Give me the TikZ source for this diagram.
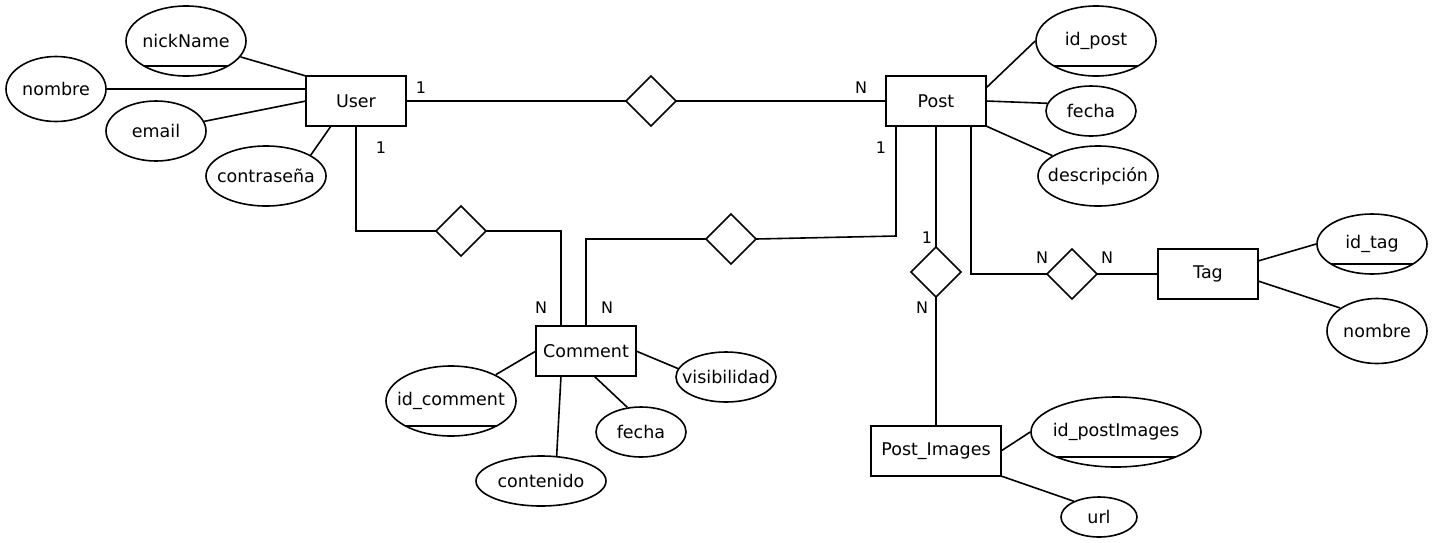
\documentclass[tikz,border=0pt]{standalone}
\usepackage{fontspec}
\setmainfont{DejaVu Sans}
\usetikzlibrary{shapes.geometric, positioning, calc}

\tikzset{
  entidad/.style={draw, minimum width=100pt, minimum height=50pt, inner sep=0pt, outer sep=0pt},
  atributo/.style={draw, ellipse, inner xsep=-15pt, inner ysep=0pt},
  clave/.style={atributo, path picture={\draw ([yshift=10pt]path picture bounding box.south west) -- ([yshift=10pt]path picture bounding box.south east);}},
  relacion/.style={draw, diamond, minimum width=50pt, minimum height=50pt, inner sep=0pt, outer sep=0pt},
  card/.style={font=\fontsize{16}{19}\selectfont, inner sep=0pt}
}

\begin{document}
\begin{tikzpicture}[x=1pt, y=-1pt, line width=1.6pt, font=\fontsize{17.5}{21}\selectfont]
\useasboundingbox[fill=white] (0,0) rectangle (1433,542);

% entidades y relaciones
\node[entidad] (User) at (356,101) {User};
\node[relacion, right=220pt of User] (r1) {};
\node[entidad, right=210pt of r1] (Post) {Post};
\node[relacion] (r2) at (461,231) {};
\node[relacion] (r3) at (731,239) {};
\node[entidad] (Comment) at (586,351) {Comment};
\node[relacion, below=121pt of Post] (r4) {};
\node[entidad, minimum width=130pt, below=129pt of r4] (PostImg) {Post\_Images};
\node[relacion] (r5) at (1072,274) {};
\node[entidad, right=61pt of r5] (Tag) {Tag};

% atributos
\node[clave, minimum width=120pt, minimum height=70pt] (nickName) at (186,41) {nickName};
\node[atributo, minimum width=100pt, minimum height=65pt] (nombre) at (56,89) {nombre};
\node[atributo, minimum width=100pt, minimum height=60pt] (email) at (156,131) {email};
\node[atributo, minimum width=120pt, minimum height=60pt] (contra) at (266,176) {contraseña};
\node[clave, minimum width=120pt, minimum height=70pt] (idpost) at (1096,41) {id\_post};
\node[atributo, minimum width=90pt, minimum height=50pt] (fechaP) at (1091,111) {fecha};
\node[atributo, minimum width=120pt, minimum height=60pt] (desc) at (1098,176) {descripción};
\node[clave, minimum width=110pt, minimum height=60pt] (idtag) at (1372,244) {id\_tag};
\node[atributo, minimum width=100pt, minimum height=65pt] (nombreT) at (1377,331) {nombre};
\node[clave, minimum width=130pt, minimum height=70pt] (idcomment) at (451,401) {id\_comment};
\node[atributo, minimum width=130pt, minimum height=50pt] (contenido) at (541,481) {contenido};
\node[atributo, minimum width=90pt, minimum height=50pt] (fechaC) at (641,432) {fecha};
\node[atributo, minimum width=100pt, minimum height=50pt] (visib) at (726,377) {visibilidad};
\node[clave, minimum width=170pt, minimum height=70pt] (idpi) at (1116,432) {id\_postImages};
\node[atributo, minimum width=76pt, minimum height=40pt] (url) at (1099,517) {url};

% cardinalidades
\node[card] (c1) at (421,88) {1};
\node[card] (c2) at (861,88) {N};
\node[card] (c3) at (381,148) {1};
\node[card] (c4) at (541,308) {N};
\node[card] (c5) at (607,308) {N};
\node[card] (c6) at (881,148) {1};
\node[card] (c7) at (927,238) {1};
\node[card] (c8) at (922,308) {N};
\node[card] (c9) at (1042,258) {N};
\node[card] (c10) at (1107,258) {N};

% conexiones
\draw (User.east) -- (r1.west);
\draw (r1.east) -- (Post.west);
\draw (User.south) |- (r2.west);
\draw (r2.east) -| ([xshift=-25pt]Comment.north);
\draw (Comment.north) |- (r3.west);
\coordinate (q3) at (896,236);
\draw (r3.east) -- (q3) -- (q3 |- Post.south);
\draw (Post.south) -- (r4.north);
\draw (r4.south) -- (PostImg.north);
\draw ([xshift=35pt]Post.south) |- (r5.west);
\draw (r5.east) -- (Tag.west);

\draw (nickName) -- (User.north west);
\draw (nombre.east) -- (nombre.east -| User.west);
\draw (email) -- (User.west);
\draw (contra.25) -- ([xshift=25pt]User.south west);
\draw ([yshift=13pt]Post.east) -- (idpost.west);
\draw (Post.east) -- (fechaP.170);
\draw (Post.south east) -- (desc);
\draw ([yshift=13pt]Tag.east) -- (idtag.west);
\draw ([yshift=-7pt]Tag.east) -- (nombreT.148);
\draw (idcomment) -- (Comment.west);
\draw ([xshift=-25pt]Comment.south) -- (contenido.58);
\draw ([xshift=8pt]Comment.south) -- (fechaC.119);
\draw (Comment.east) -- (visib.170);
\draw (PostImg.east) -- (idpi.west);
\draw (PostImg.south east) -- (url.148);
\end{tikzpicture}
\end{document}
